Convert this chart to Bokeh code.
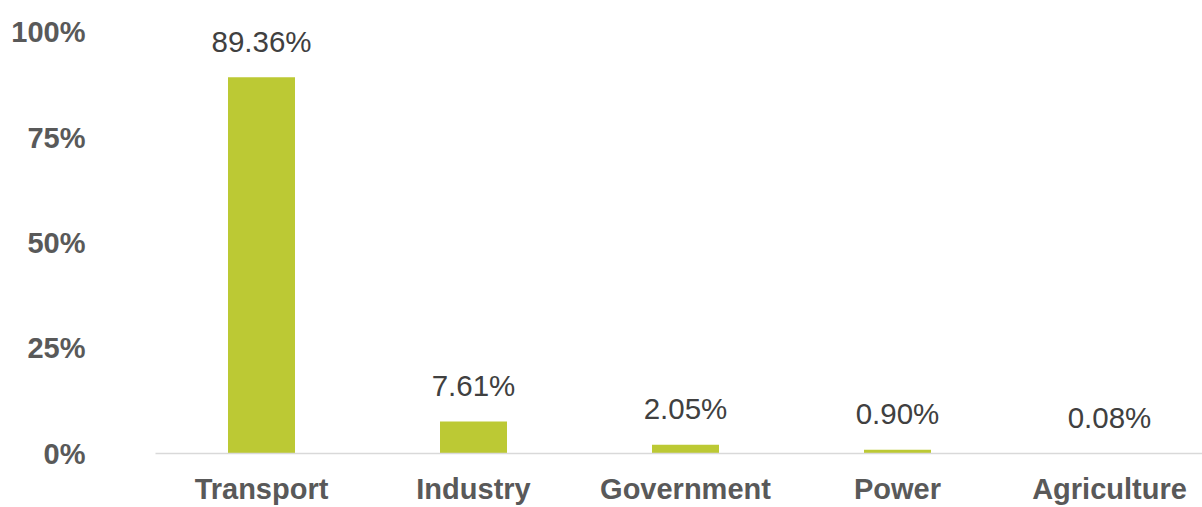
from bokeh.plotting import figure
from bokeh.models import ColumnDataSource, Range1d, FixedTicker
from bokeh.core.properties import value
from bokeh.embed import file_html
from bokeh.resources import INLINE

categories = ["Transport", "Industry", "Government", "Power", "Agriculture"]
shares = [89.36, 7.61, 2.05, 0.90, 0.08]
labels = ["89.36%", "7.61%", "2.05%", "0.90%", "0.08%"]
y_ticks = [0, 25, 50, 75, 100]
y_tick_labels = ["0%", "25%", "50%", "75%", "100%"]

xs = [i + 0.5 for i in range(len(categories))]
src = ColumnDataSource(dict(x=xs, top=shares, label=labels))

W, H = 1202, 507
left, bottom_px, top_px = 155, 53, 10
frame_w = W - left
unit = 212.0
p = figure(width=W, height=H, output_backend="svg", toolbar_location=None,
           x_range=Range1d(0, frame_w / unit), y_range=Range1d(0, 105.2),
           min_border_left=left, min_border_right=0, min_border_top=top_px,
           min_border_bottom=bottom_px)
p.outline_line_color = None
p.xgrid.visible = False
p.ygrid.visible = False
p.background_fill_color = "white"
p.border_fill_color = "white"

p.vbar(x="x", top="top", width=67 / unit, bottom=0, source=src,
       fill_color="#BCC934", line_color=None)
p.text(x="x", y="top", text="label", source=src, text_align="center",
       text_baseline="alphabetic", y_offset=-36,
       text_font=value("Liberation Sans"), text_font_size="29.5px",
       text_color="#404040")

xa = p.xaxis[0]
xa.ticker = FixedTicker(ticks=xs)
xa.major_label_overrides = {x: c for x, c in zip(xs, categories)}
xa.axis_line_color = "#D9D9D9"
xa.axis_line_width = 1.5
xa.major_tick_line_color = None
xa.minor_tick_line_color = None
xa.major_tick_out = 0
xa.major_label_standoff = 19
xa.major_label_text_font = "Liberation Sans"
xa.major_label_text_font_style = "bold"
xa.major_label_text_font_size = "29px"
xa.major_label_text_color = "#595959"

ya = p.yaxis[0]
ya.ticker = FixedTicker(ticks=y_ticks)
ya.major_label_overrides = {t: l for t, l in zip(y_ticks, y_tick_labels)}
ya.axis_line_color = None
ya.major_tick_line_color = None
ya.minor_tick_line_color = None
ya.major_tick_out = 0
ya.major_label_standoff = 70
ya.major_label_text_font = "Liberation Sans"
ya.major_label_text_font_style = "bold"
ya.major_label_text_font_size = "29px"
ya.major_label_text_color = "#595959"

open("out.html", "w").write(file_html(p, INLINE))
